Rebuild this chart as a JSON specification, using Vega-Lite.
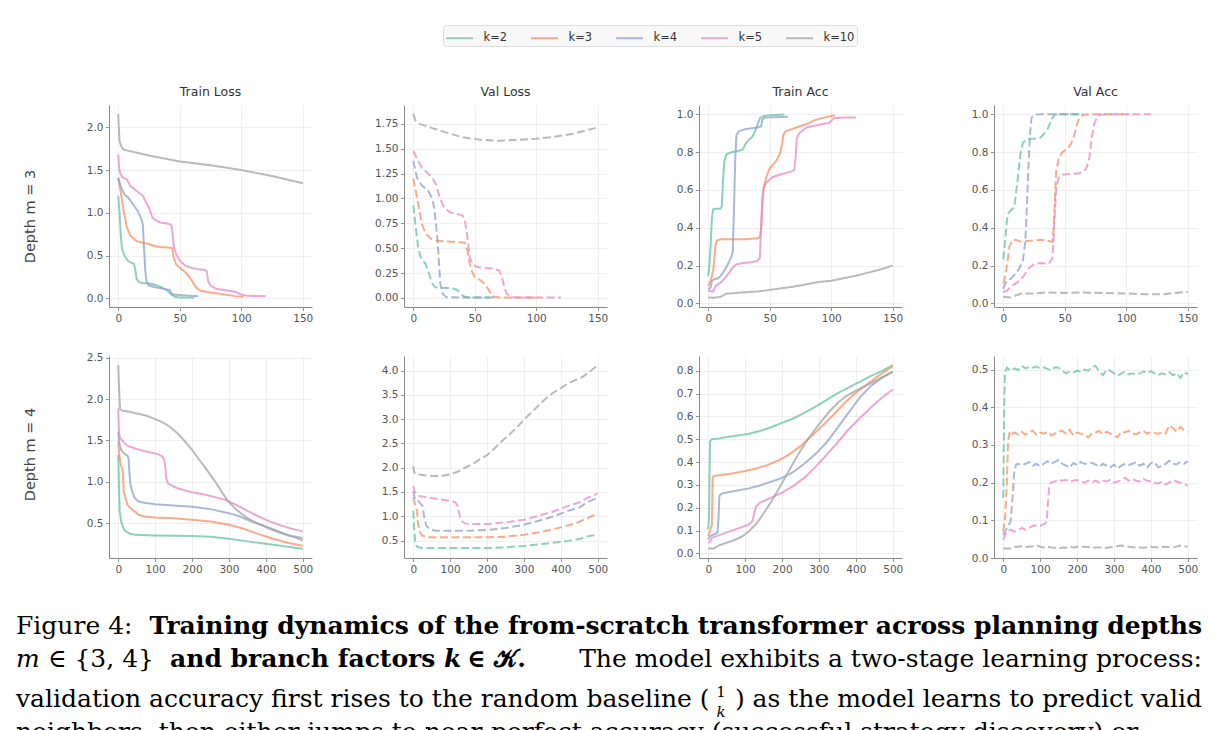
{
"$schema": "https://vega.github.io/schema/vega-lite/v6.json",
"padding": {"left": 16, "top": 24, "right": 0, "bottom": 0},
"config": {
 "view": {"stroke": null},
 "font": "DejaVu Sans",
 "axis": {"labelFont": "DejaVu Sans", "labelFontSize": 10.5, "labelColor": "#555555", "domainColor": "#888888", "tickColor": "#888888", "tickSize": 3.5, "labelPadding": 2.5, "gridColor": "#ebebeb", "gridWidth": 0.8, "domainWidth": 1, "tickWidth": 0.9, "titleFont": "DejaVu Sans", "titleFontSize": 14.5, "titleFontWeight": "normal", "titleColor": "#444444"},
 "title": {"font": "DejaVu Sans", "fontSize": 12.5, "fontWeight": "normal", "color": "#333333", "offset": 7},
 "legend": {"labelFont": "DejaVu Sans", "labelFontSize": 11.5, "labelColor": "#333333"}
},
"datasets": {
"d": [
{"p":"3TL","k":"k=2","x":0,"y":1.2},{"p":"3TL","k":"k=2","x":1,"y":1.02},{"p":"3TL","k":"k=2","x":2,"y":0.75},{"p":"3TL","k":"k=2","x":3,"y":0.59},{"p":"3TL","k":"k=2","x":5,"y":0.5},{"p":"3TL","k":"k=2","x":8,"y":0.44},{"p":"3TL","k":"k=2","x":10,"y":0.42},{"p":"3TL","k":"k=2","x":13,"y":0.4},{"p":"3TL","k":"k=2","x":14,"y":0.32},{"p":"3TL","k":"k=2","x":15,"y":0.225},{"p":"3TL","k":"k=2","x":17,"y":0.19},{"p":"3TL","k":"k=2","x":20,"y":0.18},{"p":"3TL","k":"k=2","x":25,"y":0.175},{"p":"3TL","k":"k=2","x":30,"y":0.16},{"p":"3TL","k":"k=2","x":35,"y":0.13},{"p":"3TL","k":"k=2","x":40,"y":0.09},{"p":"3TL","k":"k=2","x":43,"y":0.05},{"p":"3TL","k":"k=2","x":46,"y":0.02},{"p":"3TL","k":"k=2","x":50,"y":0.012},{"p":"3TL","k":"k=2","x":62,"y":0.01},
{"p":"3TL","k":"k=3","x":0,"y":1.41},{"p":"3TL","k":"k=3","x":2,"y":1.25},{"p":"3TL","k":"k=3","x":4,"y":1.06},{"p":"3TL","k":"k=3","x":5,"y":0.98},{"p":"3TL","k":"k=3","x":7,"y":0.83},{"p":"3TL","k":"k=3","x":10,"y":0.73},{"p":"3TL","k":"k=3","x":15,"y":0.67},{"p":"3TL","k":"k=3","x":20,"y":0.65},{"p":"3TL","k":"k=3","x":25,"y":0.635},{"p":"3TL","k":"k=3","x":30,"y":0.61},{"p":"3TL","k":"k=3","x":35,"y":0.6},{"p":"3TL","k":"k=3","x":40,"y":0.595},{"p":"3TL","k":"k=3","x":44,"y":0.59},{"p":"3TL","k":"k=3","x":45,"y":0.48},{"p":"3TL","k":"k=3","x":47,"y":0.4},{"p":"3TL","k":"k=3","x":50,"y":0.36},{"p":"3TL","k":"k=3","x":55,"y":0.3},{"p":"3TL","k":"k=3","x":58,"y":0.245},{"p":"3TL","k":"k=3","x":60,"y":0.205},{"p":"3TL","k":"k=3","x":63,"y":0.13},{"p":"3TL","k":"k=3","x":67,"y":0.09},{"p":"3TL","k":"k=3","x":75,"y":0.07},{"p":"3TL","k":"k=3","x":85,"y":0.05},{"p":"3TL","k":"k=3","x":95,"y":0.027},{"p":"3TL","k":"k=3","x":102,"y":0.02},
{"p":"3TL","k":"k=4","x":0,"y":1.41},{"p":"3TL","k":"k=4","x":2,"y":1.31},{"p":"3TL","k":"k=4","x":5,"y":1.215},{"p":"3TL","k":"k=4","x":8,"y":1.18},{"p":"3TL","k":"k=4","x":12,"y":1.1},{"p":"3TL","k":"k=4","x":16,"y":1.02},{"p":"3TL","k":"k=4","x":19,"y":0.92},{"p":"3TL","k":"k=4","x":20,"y":0.865},{"p":"3TL","k":"k=4","x":21,"y":0.59},{"p":"3TL","k":"k=4","x":22,"y":0.32},{"p":"3TL","k":"k=4","x":23,"y":0.205},{"p":"3TL","k":"k=4","x":25,"y":0.15},{"p":"3TL","k":"k=4","x":30,"y":0.13},{"p":"3TL","k":"k=4","x":35,"y":0.12},{"p":"3TL","k":"k=4","x":40,"y":0.105},{"p":"3TL","k":"k=4","x":42,"y":0.1},{"p":"3TL","k":"k=4","x":43,"y":0.06},{"p":"3TL","k":"k=4","x":45,"y":0.045},{"p":"3TL","k":"k=4","x":50,"y":0.04},{"p":"3TL","k":"k=4","x":60,"y":0.03},{"p":"3TL","k":"k=4","x":65,"y":0.027},
{"p":"3TL","k":"k=5","x":0,"y":1.68},{"p":"3TL","k":"k=5","x":1,"y":1.49},{"p":"3TL","k":"k=5","x":3,"y":1.42},{"p":"3TL","k":"k=5","x":7,"y":1.39},{"p":"3TL","k":"k=5","x":10,"y":1.31},{"p":"3TL","k":"k=5","x":15,"y":1.255},{"p":"3TL","k":"k=5","x":20,"y":1.2},{"p":"3TL","k":"k=5","x":22,"y":1.14},{"p":"3TL","k":"k=5","x":25,"y":1.06},{"p":"3TL","k":"k=5","x":28,"y":0.94},{"p":"3TL","k":"k=5","x":32,"y":0.9},{"p":"3TL","k":"k=5","x":35,"y":0.885},{"p":"3TL","k":"k=5","x":40,"y":0.875},{"p":"3TL","k":"k=5","x":43,"y":0.86},{"p":"3TL","k":"k=5","x":44,"y":0.79},{"p":"3TL","k":"k=5","x":45,"y":0.63},{"p":"3TL","k":"k=5","x":47,"y":0.52},{"p":"3TL","k":"k=5","x":50,"y":0.44},{"p":"3TL","k":"k=5","x":55,"y":0.38},{"p":"3TL","k":"k=5","x":60,"y":0.355},{"p":"3TL","k":"k=5","x":65,"y":0.34},{"p":"3TL","k":"k=5","x":70,"y":0.335},{"p":"3TL","k":"k=5","x":72,"y":0.32},{"p":"3TL","k":"k=5","x":73,"y":0.205},{"p":"3TL","k":"k=5","x":75,"y":0.15},{"p":"3TL","k":"k=5","x":80,"y":0.11},{"p":"3TL","k":"k=5","x":90,"y":0.09},{"p":"3TL","k":"k=5","x":95,"y":0.078},{"p":"3TL","k":"k=5","x":98,"y":0.06},{"p":"3TL","k":"k=5","x":100,"y":0.045},{"p":"3TL","k":"k=5","x":105,"y":0.03},{"p":"3TL","k":"k=5","x":120,"y":0.027},
{"p":"3TL","k":"k=10","x":0,"y":2.155},{"p":"3TL","k":"k=10","x":1,"y":1.84},{"p":"3TL","k":"k=10","x":3,"y":1.76},{"p":"3TL","k":"k=10","x":5,"y":1.735},{"p":"3TL","k":"k=10","x":10,"y":1.72},{"p":"3TL","k":"k=10","x":25,"y":1.67},{"p":"3TL","k":"k=10","x":50,"y":1.6},{"p":"3TL","k":"k=10","x":75,"y":1.555},{"p":"3TL","k":"k=10","x":100,"y":1.5},{"p":"3TL","k":"k=10","x":125,"y":1.43},{"p":"3TL","k":"k=10","x":150,"y":1.345},

{"p":"3VL","k":"k=2","x":0,"y":0.93},{"p":"3VL","k":"k=2","x":1,"y":0.845},{"p":"3VL","k":"k=2","x":2,"y":0.71},{"p":"3VL","k":"k=2","x":4,"y":0.51},{"p":"3VL","k":"k=2","x":6,"y":0.41},{"p":"3VL","k":"k=2","x":10,"y":0.34},{"p":"3VL","k":"k=2","x":13,"y":0.24},{"p":"3VL","k":"k=2","x":15,"y":0.16},{"p":"3VL","k":"k=2","x":17,"y":0.115},{"p":"3VL","k":"k=2","x":20,"y":0.1},{"p":"3VL","k":"k=2","x":25,"y":0.1},{"p":"3VL","k":"k=2","x":30,"y":0.1},{"p":"3VL","k":"k=2","x":35,"y":0.085},{"p":"3VL","k":"k=2","x":38,"y":0.057},{"p":"3VL","k":"k=2","x":40,"y":0.023},{"p":"3VL","k":"k=2","x":43,"y":0.007},{"p":"3VL","k":"k=2","x":50,"y":0.003},{"p":"3VL","k":"k=2","x":62,"y":0.003},
{"p":"3VL","k":"k=3","x":0,"y":1.2},{"p":"3VL","k":"k=3","x":2,"y":1.08},{"p":"3VL","k":"k=3","x":5,"y":0.88},{"p":"3VL","k":"k=3","x":7,"y":0.745},{"p":"3VL","k":"k=3","x":10,"y":0.645},{"p":"3VL","k":"k=3","x":15,"y":0.59},{"p":"3VL","k":"k=3","x":20,"y":0.575},{"p":"3VL","k":"k=3","x":25,"y":0.57},{"p":"3VL","k":"k=3","x":35,"y":0.56},{"p":"3VL","k":"k=3","x":42,"y":0.555},{"p":"3VL","k":"k=3","x":44,"y":0.475},{"p":"3VL","k":"k=3","x":46,"y":0.34},{"p":"3VL","k":"k=3","x":48,"y":0.26},{"p":"3VL","k":"k=3","x":50,"y":0.21},{"p":"3VL","k":"k=3","x":55,"y":0.175},{"p":"3VL","k":"k=3","x":58,"y":0.14},{"p":"3VL","k":"k=3","x":60,"y":0.107},{"p":"3VL","k":"k=3","x":63,"y":0.047},{"p":"3VL","k":"k=3","x":65,"y":0.013},{"p":"3VL","k":"k=3","x":70,"y":0.003},{"p":"3VL","k":"k=3","x":102,"y":0.003},
{"p":"3VL","k":"k=4","x":0,"y":1.38},{"p":"3VL","k":"k=4","x":3,"y":1.21},{"p":"3VL","k":"k=4","x":7,"y":1.13},{"p":"3VL","k":"k=4","x":12,"y":1.08},{"p":"3VL","k":"k=4","x":15,"y":1.01},{"p":"3VL","k":"k=4","x":17,"y":0.91},{"p":"3VL","k":"k=4","x":19,"y":0.68},{"p":"3VL","k":"k=4","x":20,"y":0.54},{"p":"3VL","k":"k=4","x":21,"y":0.34},{"p":"3VL","k":"k=4","x":22,"y":0.14},{"p":"3VL","k":"k=4","x":24,"y":0.04},{"p":"3VL","k":"k=4","x":27,"y":0.007},{"p":"3VL","k":"k=4","x":40,"y":0.003},{"p":"3VL","k":"k=4","x":65,"y":0.003},
{"p":"3VL","k":"k=5","x":0,"y":1.48},{"p":"3VL","k":"k=5","x":3,"y":1.4},{"p":"3VL","k":"k=5","x":7,"y":1.31},{"p":"3VL","k":"k=5","x":12,"y":1.25},{"p":"3VL","k":"k=5","x":16,"y":1.2},{"p":"3VL","k":"k=5","x":19,"y":1.13},{"p":"3VL","k":"k=5","x":21,"y":1.03},{"p":"3VL","k":"k=5","x":25,"y":0.91},{"p":"3VL","k":"k=5","x":30,"y":0.86},{"p":"3VL","k":"k=5","x":35,"y":0.845},{"p":"3VL","k":"k=5","x":40,"y":0.83},{"p":"3VL","k":"k=5","x":42,"y":0.78},{"p":"3VL","k":"k=5","x":44,"y":0.61},{"p":"3VL","k":"k=5","x":46,"y":0.41},{"p":"3VL","k":"k=5","x":48,"y":0.34},{"p":"3VL","k":"k=5","x":52,"y":0.31},{"p":"3VL","k":"k=5","x":58,"y":0.3},{"p":"3VL","k":"k=5","x":65,"y":0.295},{"p":"3VL","k":"k=5","x":70,"y":0.275},{"p":"3VL","k":"k=5","x":72,"y":0.21},{"p":"3VL","k":"k=5","x":74,"y":0.107},{"p":"3VL","k":"k=5","x":76,"y":0.04},{"p":"3VL","k":"k=5","x":80,"y":0.007},{"p":"3VL","k":"k=5","x":90,"y":0.003},{"p":"3VL","k":"k=5","x":120,"y":0.003},
{"p":"3VL","k":"k=10","x":0,"y":1.85},{"p":"3VL","k":"k=10","x":2,"y":1.78},{"p":"3VL","k":"k=10","x":5,"y":1.75},{"p":"3VL","k":"k=10","x":15,"y":1.71},{"p":"3VL","k":"k=10","x":25,"y":1.67},{"p":"3VL","k":"k=10","x":40,"y":1.615},{"p":"3VL","k":"k=10","x":55,"y":1.59},{"p":"3VL","k":"k=10","x":70,"y":1.58},{"p":"3VL","k":"k=10","x":85,"y":1.59},{"p":"3VL","k":"k=10","x":100,"y":1.6},{"p":"3VL","k":"k=10","x":115,"y":1.62},{"p":"3VL","k":"k=10","x":130,"y":1.65},{"p":"3VL","k":"k=10","x":150,"y":1.715},

{"p":"3TA","k":"k=2","x":0,"y":0.145},{"p":"3TA","k":"k=2","x":1,"y":0.207},{"p":"3TA","k":"k=2","x":2,"y":0.31},{"p":"3TA","k":"k=2","x":3,"y":0.45},{"p":"3TA","k":"k=2","x":4,"y":0.497},{"p":"3TA","k":"k=2","x":6,"y":0.5},{"p":"3TA","k":"k=2","x":10,"y":0.5},{"p":"3TA","k":"k=2","x":11,"y":0.514},{"p":"3TA","k":"k=2","x":12,"y":0.646},{"p":"3TA","k":"k=2","x":13,"y":0.75},{"p":"3TA","k":"k=2","x":15,"y":0.79},{"p":"3TA","k":"k=2","x":20,"y":0.8},{"p":"3TA","k":"k=2","x":25,"y":0.807},{"p":"3TA","k":"k=2","x":28,"y":0.812},{"p":"3TA","k":"k=2","x":30,"y":0.84},{"p":"3TA","k":"k=2","x":33,"y":0.865},{"p":"3TA","k":"k=2","x":36,"y":0.882},{"p":"3TA","k":"k=2","x":38,"y":0.909},{"p":"3TA","k":"k=2","x":40,"y":0.944},{"p":"3TA","k":"k=2","x":42,"y":0.979},{"p":"3TA","k":"k=2","x":45,"y":0.99},{"p":"3TA","k":"k=2","x":50,"y":0.995},{"p":"3TA","k":"k=2","x":62,"y":0.998},
{"p":"3TA","k":"k=3","x":0,"y":0.093},{"p":"3TA","k":"k=3","x":2,"y":0.12},{"p":"3TA","k":"k=3","x":4,"y":0.172},{"p":"3TA","k":"k=3","x":5,"y":0.242},{"p":"3TA","k":"k=3","x":6,"y":0.31},{"p":"3TA","k":"k=3","x":7,"y":0.333},{"p":"3TA","k":"k=3","x":10,"y":0.339},{"p":"3TA","k":"k=3","x":20,"y":0.339},{"p":"3TA","k":"k=3","x":30,"y":0.34},{"p":"3TA","k":"k=3","x":40,"y":0.344},{"p":"3TA","k":"k=3","x":42,"y":0.351},{"p":"3TA","k":"k=3","x":43,"y":0.4},{"p":"3TA","k":"k=3","x":44,"y":0.523},{"p":"3TA","k":"k=3","x":45,"y":0.61},{"p":"3TA","k":"k=3","x":47,"y":0.663},{"p":"3TA","k":"k=3","x":50,"y":0.716},{"p":"3TA","k":"k=3","x":55,"y":0.75},{"p":"3TA","k":"k=3","x":58,"y":0.786},{"p":"3TA","k":"k=3","x":60,"y":0.84},{"p":"3TA","k":"k=3","x":61,"y":0.891},{"p":"3TA","k":"k=3","x":63,"y":0.909},{"p":"3TA","k":"k=3","x":70,"y":0.926},{"p":"3TA","k":"k=3","x":78,"y":0.944},{"p":"3TA","k":"k=3","x":82,"y":0.953},{"p":"3TA","k":"k=3","x":85,"y":0.965},{"p":"3TA","k":"k=3","x":92,"y":0.979},{"p":"3TA","k":"k=3","x":100,"y":0.991},{"p":"3TA","k":"k=3","x":103,"y":0.993},
{"p":"3TA","k":"k=4","x":0,"y":0.075},{"p":"3TA","k":"k=4","x":2,"y":0.084},{"p":"3TA","k":"k=4","x":3,"y":0.12},{"p":"3TA","k":"k=4","x":5,"y":0.128},{"p":"3TA","k":"k=4","x":8,"y":0.133},{"p":"3TA","k":"k=4","x":10,"y":0.146},{"p":"3TA","k":"k=4","x":13,"y":0.172},{"p":"3TA","k":"k=4","x":16,"y":0.207},{"p":"3TA","k":"k=4","x":19,"y":0.25},{"p":"3TA","k":"k=4","x":20,"y":0.277},{"p":"3TA","k":"k=4","x":21,"y":0.523},{"p":"3TA","k":"k=4","x":22,"y":0.768},{"p":"3TA","k":"k=4","x":23,"y":0.891},{"p":"3TA","k":"k=4","x":25,"y":0.909},{"p":"3TA","k":"k=4","x":30,"y":0.921},{"p":"3TA","k":"k=4","x":35,"y":0.926},{"p":"3TA","k":"k=4","x":40,"y":0.93},{"p":"3TA","k":"k=4","x":43,"y":0.935},{"p":"3TA","k":"k=4","x":44,"y":0.97},{"p":"3TA","k":"k=4","x":46,"y":0.982},{"p":"3TA","k":"k=4","x":55,"y":0.984},{"p":"3TA","k":"k=4","x":65,"y":0.986},
{"p":"3TA","k":"k=5","x":0,"y":0.067},{"p":"3TA","k":"k=5","x":4,"y":0.063},{"p":"3TA","k":"k=5","x":6,"y":0.093},{"p":"3TA","k":"k=5","x":10,"y":0.11},{"p":"3TA","k":"k=5","x":14,"y":0.137},{"p":"3TA","k":"k=5","x":17,"y":0.163},{"p":"3TA","k":"k=5","x":20,"y":0.19},{"p":"3TA","k":"k=5","x":23,"y":0.207},{"p":"3TA","k":"k=5","x":28,"y":0.214},{"p":"3TA","k":"k=5","x":35,"y":0.218},{"p":"3TA","k":"k=5","x":40,"y":0.225},{"p":"3TA","k":"k=5","x":42,"y":0.242},{"p":"3TA","k":"k=5","x":43,"y":0.4},{"p":"3TA","k":"k=5","x":44,"y":0.558},{"p":"3TA","k":"k=5","x":45,"y":0.61},{"p":"3TA","k":"k=5","x":47,"y":0.637},{"p":"3TA","k":"k=5","x":52,"y":0.667},{"p":"3TA","k":"k=5","x":60,"y":0.684},{"p":"3TA","k":"k=5","x":68,"y":0.698},{"p":"3TA","k":"k=5","x":70,"y":0.707},{"p":"3TA","k":"k=5","x":71,"y":0.768},{"p":"3TA","k":"k=5","x":72,"y":0.874},{"p":"3TA","k":"k=5","x":74,"y":0.9},{"p":"3TA","k":"k=5","x":80,"y":0.93},{"p":"3TA","k":"k=5","x":90,"y":0.944},{"p":"3TA","k":"k=5","x":98,"y":0.953},{"p":"3TA","k":"k=5","x":100,"y":0.965},{"p":"3TA","k":"k=5","x":102,"y":0.979},{"p":"3TA","k":"k=5","x":110,"y":0.982},{"p":"3TA","k":"k=5","x":120,"y":0.982},
{"p":"3TA","k":"k=10","x":0,"y":0.032},{"p":"3TA","k":"k=10","x":5,"y":0.03},{"p":"3TA","k":"k=10","x":10,"y":0.035},{"p":"3TA","k":"k=10","x":15,"y":0.053},{"p":"3TA","k":"k=10","x":20,"y":0.054},{"p":"3TA","k":"k=10","x":30,"y":0.06},{"p":"3TA","k":"k=10","x":40,"y":0.063},{"p":"3TA","k":"k=10","x":50,"y":0.072},{"p":"3TA","k":"k=10","x":60,"y":0.081},{"p":"3TA","k":"k=10","x":70,"y":0.09},{"p":"3TA","k":"k=10","x":80,"y":0.102},{"p":"3TA","k":"k=10","x":90,"y":0.114},{"p":"3TA","k":"k=10","x":100,"y":0.12},{"p":"3TA","k":"k=10","x":110,"y":0.133},{"p":"3TA","k":"k=10","x":120,"y":0.147},{"p":"3TA","k":"k=10","x":130,"y":0.163},{"p":"3TA","k":"k=10","x":140,"y":0.18},{"p":"3TA","k":"k=10","x":150,"y":0.2},

{"p":"3VA","k":"k=2","x":0,"y":0.233},{"p":"3VA","k":"k=2","x":1,"y":0.295},{"p":"3VA","k":"k=2","x":2,"y":0.365},{"p":"3VA","k":"k=2","x":3,"y":0.44},{"p":"3VA","k":"k=2","x":4,"y":0.475},{"p":"3VA","k":"k=2","x":6,"y":0.49},{"p":"3VA","k":"k=2","x":9,"y":0.51},{"p":"3VA","k":"k=2","x":10,"y":0.56},{"p":"3VA","k":"k=2","x":12,"y":0.67},{"p":"3VA","k":"k=2","x":14,"y":0.79},{"p":"3VA","k":"k=2","x":16,"y":0.85},{"p":"3VA","k":"k=2","x":20,"y":0.87},{"p":"3VA","k":"k=2","x":25,"y":0.87},{"p":"3VA","k":"k=2","x":30,"y":0.875},{"p":"3VA","k":"k=2","x":33,"y":0.895},{"p":"3VA","k":"k=2","x":36,"y":0.92},{"p":"3VA","k":"k=2","x":40,"y":0.982},{"p":"3VA","k":"k=2","x":42,"y":0.998},{"p":"3VA","k":"k=2","x":50,"y":1.0},{"p":"3VA","k":"k=2","x":62,"y":1.0},
{"p":"3VA","k":"k=3","x":0,"y":0.105},{"p":"3VA","k":"k=3","x":2,"y":0.158},{"p":"3VA","k":"k=3","x":4,"y":0.246},{"p":"3VA","k":"k=3","x":5,"y":0.3},{"p":"3VA","k":"k=3","x":7,"y":0.33},{"p":"3VA","k":"k=3","x":10,"y":0.337},{"p":"3VA","k":"k=3","x":15,"y":0.325},{"p":"3VA","k":"k=3","x":20,"y":0.33},{"p":"3VA","k":"k=3","x":25,"y":0.333},{"p":"3VA","k":"k=3","x":30,"y":0.337},{"p":"3VA","k":"k=3","x":35,"y":0.333},{"p":"3VA","k":"k=3","x":40,"y":0.325},{"p":"3VA","k":"k=3","x":41,"y":0.404},{"p":"3VA","k":"k=3","x":42,"y":0.544},{"p":"3VA","k":"k=3","x":43,"y":0.7},{"p":"3VA","k":"k=3","x":45,"y":0.763},{"p":"3VA","k":"k=3","x":48,"y":0.8},{"p":"3VA","k":"k=3","x":52,"y":0.816},{"p":"3VA","k":"k=3","x":55,"y":0.842},{"p":"3VA","k":"k=3","x":58,"y":0.895},{"p":"3VA","k":"k=3","x":60,"y":0.947},{"p":"3VA","k":"k=3","x":62,"y":0.982},{"p":"3VA","k":"k=3","x":65,"y":0.996},{"p":"3VA","k":"k=3","x":70,"y":1.0},{"p":"3VA","k":"k=3","x":102,"y":1.0},
{"p":"3VA","k":"k=4","x":0,"y":0.079},{"p":"3VA","k":"k=4","x":3,"y":0.123},{"p":"3VA","k":"k=4","x":6,"y":0.13},{"p":"3VA","k":"k=4","x":10,"y":0.158},{"p":"3VA","k":"k=4","x":13,"y":0.184},{"p":"3VA","k":"k=4","x":16,"y":0.228},{"p":"3VA","k":"k=4","x":18,"y":0.333},{"p":"3VA","k":"k=4","x":19,"y":0.474},{"p":"3VA","k":"k=4","x":20,"y":0.65},{"p":"3VA","k":"k=4","x":21,"y":0.79},{"p":"3VA","k":"k=4","x":22,"y":0.912},{"p":"3VA","k":"k=4","x":23,"y":0.982},{"p":"3VA","k":"k=4","x":25,"y":0.996},{"p":"3VA","k":"k=4","x":30,"y":1.0},{"p":"3VA","k":"k=4","x":65,"y":1.0},
{"p":"3VA","k":"k=5","x":0,"y":0.061},{"p":"3VA","k":"k=5","x":3,"y":0.067},{"p":"3VA","k":"k=5","x":6,"y":0.088},{"p":"3VA","k":"k=5","x":10,"y":0.105},{"p":"3VA","k":"k=5","x":14,"y":0.123},{"p":"3VA","k":"k=5","x":18,"y":0.158},{"p":"3VA","k":"k=5","x":21,"y":0.188},{"p":"3VA","k":"k=5","x":25,"y":0.207},{"p":"3VA","k":"k=5","x":30,"y":0.214},{"p":"3VA","k":"k=5","x":37,"y":0.21},{"p":"3VA","k":"k=5","x":40,"y":0.237},{"p":"3VA","k":"k=5","x":41,"y":0.35},{"p":"3VA","k":"k=5","x":42,"y":0.49},{"p":"3VA","k":"k=5","x":43,"y":0.596},{"p":"3VA","k":"k=5","x":45,"y":0.667},{"p":"3VA","k":"k=5","x":48,"y":0.68},{"p":"3VA","k":"k=5","x":55,"y":0.684},{"p":"3VA","k":"k=5","x":62,"y":0.688},{"p":"3VA","k":"k=5","x":66,"y":0.7},{"p":"3VA","k":"k=5","x":68,"y":0.72},{"p":"3VA","k":"k=5","x":70,"y":0.77},{"p":"3VA","k":"k=5","x":72,"y":0.877},{"p":"3VA","k":"k=5","x":74,"y":0.947},{"p":"3VA","k":"k=5","x":76,"y":0.982},{"p":"3VA","k":"k=5","x":78,"y":0.996},{"p":"3VA","k":"k=5","x":85,"y":1.0},{"p":"3VA","k":"k=5","x":120,"y":1.0},
{"p":"3VA","k":"k=10","x":0,"y":0.035},{"p":"3VA","k":"k=10","x":6,"y":0.032},{"p":"3VA","k":"k=10","x":10,"y":0.042},{"p":"3VA","k":"k=10","x":15,"y":0.053},{"p":"3VA","k":"k=10","x":25,"y":0.053},{"p":"3VA","k":"k=10","x":35,"y":0.058},{"p":"3VA","k":"k=10","x":50,"y":0.056},{"p":"3VA","k":"k=10","x":65,"y":0.058},{"p":"3VA","k":"k=10","x":80,"y":0.056},{"p":"3VA","k":"k=10","x":100,"y":0.053},{"p":"3VA","k":"k=10","x":115,"y":0.049},{"p":"3VA","k":"k=10","x":130,"y":0.049},{"p":"3VA","k":"k=10","x":140,"y":0.056},{"p":"3VA","k":"k=10","x":150,"y":0.061},

{"p":"4TL","k":"k=2","x":0,"y":1.323},{"p":"4TL","k":"k=2","x":2,"y":0.962},{"p":"4TL","k":"k=2","x":4,"y":0.641},{"p":"4TL","k":"k=2","x":8,"y":0.52},{"p":"4TL","k":"k=2","x":12,"y":0.46},{"p":"4TL","k":"k=2","x":18,"y":0.408},{"p":"4TL","k":"k=2","x":30,"y":0.375},{"p":"4TL","k":"k=2","x":45,"y":0.359},{"p":"4TL","k":"k=2","x":100,"y":0.351},{"p":"4TL","k":"k=2","x":150,"y":0.347},{"p":"4TL","k":"k=2","x":200,"y":0.343},{"p":"4TL","k":"k=2","x":250,"y":0.335},{"p":"4TL","k":"k=2","x":300,"y":0.311},{"p":"4TL","k":"k=2","x":350,"y":0.279},{"p":"4TL","k":"k=2","x":400,"y":0.251},{"p":"4TL","k":"k=2","x":450,"y":0.219},{"p":"4TL","k":"k=2","x":500,"y":0.191},
{"p":"4TL","k":"k=3","x":0,"y":1.484},{"p":"4TL","k":"k=3","x":3,"y":1.323},{"p":"4TL","k":"k=3","x":7,"y":1.203},{"p":"4TL","k":"k=3","x":12,"y":1.142},{"p":"4TL","k":"k=3","x":15,"y":0.881},{"p":"4TL","k":"k=3","x":20,"y":0.801},{"p":"4TL","k":"k=3","x":25,"y":0.721},{"p":"4TL","k":"k=3","x":35,"y":0.673},{"p":"4TL","k":"k=3","x":45,"y":0.641},{"p":"4TL","k":"k=3","x":55,"y":0.6},{"p":"4TL","k":"k=3","x":70,"y":0.58},{"p":"4TL","k":"k=3","x":100,"y":0.568},{"p":"4TL","k":"k=3","x":150,"y":0.56},{"p":"4TL","k":"k=3","x":200,"y":0.54},{"p":"4TL","k":"k=3","x":250,"y":0.52},{"p":"4TL","k":"k=3","x":300,"y":0.48},{"p":"4TL","k":"k=3","x":340,"y":0.432},{"p":"4TL","k":"k=3","x":380,"y":0.367},{"p":"4TL","k":"k=3","x":420,"y":0.311},{"p":"4TL","k":"k=3","x":460,"y":0.259},{"p":"4TL","k":"k=3","x":500,"y":0.227},
{"p":"4TL","k":"k=4","x":0,"y":1.604},{"p":"4TL","k":"k=4","x":3,"y":1.464},{"p":"4TL","k":"k=4","x":8,"y":1.384},{"p":"4TL","k":"k=4","x":15,"y":1.343},{"p":"4TL","k":"k=4","x":25,"y":1.315},{"p":"4TL","k":"k=4","x":28,"y":1.283},{"p":"4TL","k":"k=4","x":30,"y":1.122},{"p":"4TL","k":"k=4","x":33,"y":0.962},{"p":"4TL","k":"k=4","x":38,"y":0.881},{"p":"4TL","k":"k=4","x":45,"y":0.801},{"p":"4TL","k":"k=4","x":55,"y":0.761},{"p":"4TL","k":"k=4","x":70,"y":0.745},{"p":"4TL","k":"k=4","x":100,"y":0.729},{"p":"4TL","k":"k=4","x":150,"y":0.713},{"p":"4TL","k":"k=4","x":200,"y":0.697},{"p":"4TL","k":"k=4","x":250,"y":0.669},{"p":"4TL","k":"k=4","x":300,"y":0.62},{"p":"4TL","k":"k=4","x":330,"y":0.58},{"p":"4TL","k":"k=4","x":360,"y":0.52},{"p":"4TL","k":"k=4","x":400,"y":0.46},{"p":"4TL","k":"k=4","x":430,"y":0.408},{"p":"4TL","k":"k=4","x":460,"y":0.351},{"p":"4TL","k":"k=4","x":480,"y":0.327},{"p":"4TL","k":"k=4","x":500,"y":0.287},
{"p":"4TL","k":"k=5","x":0,"y":1.886},{"p":"4TL","k":"k=5","x":2,"y":1.6},{"p":"4TL","k":"k=5","x":5,"y":1.532},{"p":"4TL","k":"k=5","x":10,"y":1.504},{"p":"4TL","k":"k=5","x":20,"y":1.452},{"p":"4TL","k":"k=5","x":30,"y":1.424},{"p":"4TL","k":"k=5","x":50,"y":1.396},{"p":"4TL","k":"k=5","x":70,"y":1.371},{"p":"4TL","k":"k=5","x":90,"y":1.351},{"p":"4TL","k":"k=5","x":110,"y":1.331},{"p":"4TL","k":"k=5","x":120,"y":1.303},{"p":"4TL","k":"k=5","x":125,"y":1.263},{"p":"4TL","k":"k=5","x":128,"y":1.163},{"p":"4TL","k":"k=5","x":130,"y":1.042},{"p":"4TL","k":"k=5","x":135,"y":0.982},{"p":"4TL","k":"k=5","x":145,"y":0.954},{"p":"4TL","k":"k=5","x":160,"y":0.922},{"p":"4TL","k":"k=5","x":180,"y":0.898},{"p":"4TL","k":"k=5","x":200,"y":0.873},{"p":"4TL","k":"k=5","x":230,"y":0.849},{"p":"4TL","k":"k=5","x":260,"y":0.817},{"p":"4TL","k":"k=5","x":290,"y":0.781},{"p":"4TL","k":"k=5","x":320,"y":0.721},{"p":"4TL","k":"k=5","x":350,"y":0.648},{"p":"4TL","k":"k=5","x":380,"y":0.58},{"p":"4TL","k":"k=5","x":410,"y":0.52},{"p":"4TL","k":"k=5","x":440,"y":0.472},{"p":"4TL","k":"k=5","x":470,"y":0.432},{"p":"4TL","k":"k=5","x":500,"y":0.4},
{"p":"4TL","k":"k=10","x":0,"y":2.41},{"p":"4TL","k":"k=10","x":3,"y":2.05},{"p":"4TL","k":"k=10","x":5,"y":1.878},{"p":"4TL","k":"k=10","x":10,"y":1.86},{"p":"4TL","k":"k=10","x":30,"y":1.845},{"p":"4TL","k":"k=10","x":50,"y":1.825},{"p":"4TL","k":"k=10","x":75,"y":1.8},{"p":"4TL","k":"k=10","x":100,"y":1.757},{"p":"4TL","k":"k=10","x":120,"y":1.717},{"p":"4TL","k":"k=10","x":140,"y":1.665},{"p":"4TL","k":"k=10","x":160,"y":1.585},{"p":"4TL","k":"k=10","x":180,"y":1.492},{"p":"4TL","k":"k=10","x":200,"y":1.384},{"p":"4TL","k":"k=10","x":220,"y":1.263},{"p":"4TL","k":"k=10","x":240,"y":1.143},{"p":"4TL","k":"k=10","x":260,"y":1.02},{"p":"4TL","k":"k=10","x":280,"y":0.88},{"p":"4TL","k":"k=10","x":295,"y":0.78},{"p":"4TL","k":"k=10","x":320,"y":0.66},{"p":"4TL","k":"k=10","x":350,"y":0.56},{"p":"4TL","k":"k=10","x":380,"y":0.49},{"p":"4TL","k":"k=10","x":410,"y":0.43},{"p":"4TL","k":"k=10","x":440,"y":0.38},{"p":"4TL","k":"k=10","x":470,"y":0.345},{"p":"4TL","k":"k=10","x":500,"y":0.32},

{"p":"4VL","k":"k=2","x":0,"y":1.112},{"p":"4VL","k":"k=2","x":3,"y":0.703},{"p":"4VL","k":"k=2","x":6,"y":0.43},{"p":"4VL","k":"k=2","x":10,"y":0.375},{"p":"4VL","k":"k=2","x":20,"y":0.348},{"p":"4VL","k":"k=2","x":50,"y":0.348},{"p":"4VL","k":"k=2","x":100,"y":0.348},{"p":"4VL","k":"k=2","x":200,"y":0.348},{"p":"4VL","k":"k=2","x":250,"y":0.36},{"p":"4VL","k":"k=2","x":300,"y":0.389},{"p":"4VL","k":"k=2","x":350,"y":0.43},{"p":"4VL","k":"k=2","x":400,"y":0.471},{"p":"4VL","k":"k=2","x":450,"y":0.532},{"p":"4VL","k":"k=2","x":480,"y":0.6},{"p":"4VL","k":"k=2","x":500,"y":0.614},
{"p":"4VL","k":"k=3","x":0,"y":1.385},{"p":"4VL","k":"k=3","x":5,"y":1.249},{"p":"4VL","k":"k=3","x":10,"y":1.112},{"p":"4VL","k":"k=3","x":13,"y":0.839},{"p":"4VL","k":"k=3","x":18,"y":0.669},{"p":"4VL","k":"k=3","x":25,"y":0.6},{"p":"4VL","k":"k=3","x":40,"y":0.566},{"p":"4VL","k":"k=3","x":100,"y":0.566},{"p":"4VL","k":"k=3","x":200,"y":0.566},{"p":"4VL","k":"k=3","x":250,"y":0.58},{"p":"4VL","k":"k=3","x":300,"y":0.621},{"p":"4VL","k":"k=3","x":350,"y":0.682},{"p":"4VL","k":"k=3","x":400,"y":0.771},{"p":"4VL","k":"k=3","x":440,"y":0.853},{"p":"4VL","k":"k=3","x":470,"y":0.955},{"p":"4VL","k":"k=3","x":500,"y":1.058},
{"p":"4VL","k":"k=4","x":0,"y":1.521},{"p":"4VL","k":"k=4","x":5,"y":1.351},{"p":"4VL","k":"k=4","x":15,"y":1.303},{"p":"4VL","k":"k=4","x":25,"y":1.214},{"p":"4VL","k":"k=4","x":30,"y":0.976},{"p":"4VL","k":"k=4","x":35,"y":0.805},{"p":"4VL","k":"k=4","x":45,"y":0.737},{"p":"4VL","k":"k=4","x":60,"y":0.703},{"p":"4VL","k":"k=4","x":100,"y":0.703},{"p":"4VL","k":"k=4","x":150,"y":0.703},{"p":"4VL","k":"k=4","x":200,"y":0.716},{"p":"4VL","k":"k=4","x":250,"y":0.757},{"p":"4VL","k":"k=4","x":300,"y":0.826},{"p":"4VL","k":"k=4","x":340,"y":0.907},{"p":"4VL","k":"k=4","x":380,"y":0.996},{"p":"4VL","k":"k=4","x":420,"y":1.112},{"p":"4VL","k":"k=4","x":450,"y":1.18},{"p":"4VL","k":"k=4","x":470,"y":1.283},{"p":"4VL","k":"k=4","x":500,"y":1.385},
{"p":"4VL","k":"k=5","x":0,"y":1.624},{"p":"4VL","k":"k=5","x":5,"y":1.487},{"p":"4VL","k":"k=5","x":15,"y":1.419},{"p":"4VL","k":"k=5","x":40,"y":1.385},{"p":"4VL","k":"k=5","x":70,"y":1.351},{"p":"4VL","k":"k=5","x":100,"y":1.317},{"p":"4VL","k":"k=5","x":115,"y":1.283},{"p":"4VL","k":"k=5","x":120,"y":1.214},{"p":"4VL","k":"k=5","x":125,"y":1.044},{"p":"4VL","k":"k=5","x":130,"y":0.907},{"p":"4VL","k":"k=5","x":140,"y":0.853},{"p":"4VL","k":"k=5","x":160,"y":0.839},{"p":"4VL","k":"k=5","x":200,"y":0.839},{"p":"4VL","k":"k=5","x":250,"y":0.873},{"p":"4VL","k":"k=5","x":300,"y":0.928},{"p":"4VL","k":"k=5","x":340,"y":1.01},{"p":"4VL","k":"k=5","x":380,"y":1.098},{"p":"4VL","k":"k=5","x":420,"y":1.214},{"p":"4VL","k":"k=5","x":450,"y":1.283},{"p":"4VL","k":"k=5","x":470,"y":1.371},{"p":"4VL","k":"k=5","x":500,"y":1.467},
{"p":"4VL","k":"k=10","x":0,"y":2.033},{"p":"4VL","k":"k=10","x":3,"y":1.897},{"p":"4VL","k":"k=10","x":10,"y":1.863},{"p":"4VL","k":"k=10","x":30,"y":1.842},{"p":"4VL","k":"k=10","x":60,"y":1.829},{"p":"4VL","k":"k=10","x":80,"y":1.835},{"p":"4VL","k":"k=10","x":100,"y":1.863},{"p":"4VL","k":"k=10","x":120,"y":1.917},{"p":"4VL","k":"k=10","x":140,"y":1.999},{"p":"4VL","k":"k=10","x":160,"y":2.067},{"p":"4VL","k":"k=10","x":180,"y":2.17},{"p":"4VL","k":"k=10","x":200,"y":2.258},{"p":"4VL","k":"k=10","x":220,"y":2.395},{"p":"4VL","k":"k=10","x":240,"y":2.545},{"p":"4VL","k":"k=10","x":260,"y":2.681},{"p":"4VL","k":"k=10","x":280,"y":2.818},{"p":"4VL","k":"k=10","x":300,"y":2.988},{"p":"4VL","k":"k=10","x":320,"y":3.138},{"p":"4VL","k":"k=10","x":340,"y":3.282},{"p":"4VL","k":"k=10","x":360,"y":3.432},{"p":"4VL","k":"k=10","x":380,"y":3.548},{"p":"4VL","k":"k=10","x":400,"y":3.637},{"p":"4VL","k":"k=10","x":420,"y":3.739},{"p":"4VL","k":"k=10","x":440,"y":3.807},{"p":"4VL","k":"k=10","x":460,"y":3.876},{"p":"4VL","k":"k=10","x":480,"y":3.99},{"p":"4VL","k":"k=10","x":500,"y":4.113},

{"p":"4TA","k":"k=2","x":0,"y":0.105},{"p":"4TA","k":"k=2","x":2,"y":0.156},{"p":"4TA","k":"k=2","x":4,"y":0.39},{"p":"4TA","k":"k=2","x":5,"y":0.492},{"p":"4TA","k":"k=2","x":10,"y":0.5},{"p":"4TA","k":"k=2","x":30,"y":0.504},{"p":"4TA","k":"k=2","x":50,"y":0.51},{"p":"4TA","k":"k=2","x":80,"y":0.517},{"p":"4TA","k":"k=2","x":110,"y":0.524},{"p":"4TA","k":"k=2","x":140,"y":0.536},{"p":"4TA","k":"k=2","x":170,"y":0.553},{"p":"4TA","k":"k=2","x":200,"y":0.572},{"p":"4TA","k":"k=2","x":230,"y":0.591},{"p":"4TA","k":"k=2","x":260,"y":0.616},{"p":"4TA","k":"k=2","x":290,"y":0.642},{"p":"4TA","k":"k=2","x":320,"y":0.672},{"p":"4TA","k":"k=2","x":350,"y":0.701},{"p":"4TA","k":"k=2","x":380,"y":0.726},{"p":"4TA","k":"k=2","x":410,"y":0.752},{"p":"4TA","k":"k=2","x":440,"y":0.777},{"p":"4TA","k":"k=2","x":470,"y":0.799},{"p":"4TA","k":"k=2","x":500,"y":0.825},
{"p":"4TA","k":"k=3","x":0,"y":0.076},{"p":"4TA","k":"k=3","x":5,"y":0.098},{"p":"4TA","k":"k=3","x":10,"y":0.127},{"p":"4TA","k":"k=3","x":12,"y":0.331},{"p":"4TA","k":"k=3","x":14,"y":0.339},{"p":"4TA","k":"k=3","x":30,"y":0.343},{"p":"4TA","k":"k=3","x":60,"y":0.349},{"p":"4TA","k":"k=3","x":100,"y":0.361},{"p":"4TA","k":"k=3","x":130,"y":0.372},{"p":"4TA","k":"k=3","x":160,"y":0.387},{"p":"4TA","k":"k=3","x":190,"y":0.407},{"p":"4TA","k":"k=3","x":220,"y":0.434},{"p":"4TA","k":"k=3","x":250,"y":0.47},{"p":"4TA","k":"k=3","x":280,"y":0.514},{"p":"4TA","k":"k=3","x":310,"y":0.561},{"p":"4TA","k":"k=3","x":340,"y":0.609},{"p":"4TA","k":"k=3","x":370,"y":0.66},{"p":"4TA","k":"k=3","x":400,"y":0.704},{"p":"4TA","k":"k=3","x":430,"y":0.74},{"p":"4TA","k":"k=3","x":460,"y":0.777},{"p":"4TA","k":"k=3","x":500,"y":0.82},
{"p":"4TA","k":"k=4","x":0,"y":0.061},{"p":"4TA","k":"k=4","x":5,"y":0.076},{"p":"4TA","k":"k=4","x":15,"y":0.083},{"p":"4TA","k":"k=4","x":25,"y":0.09},{"p":"4TA","k":"k=4","x":28,"y":0.156},{"p":"4TA","k":"k=4","x":30,"y":0.251},{"p":"4TA","k":"k=4","x":35,"y":0.261},{"p":"4TA","k":"k=4","x":50,"y":0.267},{"p":"4TA","k":"k=4","x":80,"y":0.276},{"p":"4TA","k":"k=4","x":110,"y":0.285},{"p":"4TA","k":"k=4","x":140,"y":0.298},{"p":"4TA","k":"k=4","x":170,"y":0.314},{"p":"4TA","k":"k=4","x":200,"y":0.331},{"p":"4TA","k":"k=4","x":230,"y":0.356},{"p":"4TA","k":"k=4","x":260,"y":0.393},{"p":"4TA","k":"k=4","x":290,"y":0.434},{"p":"4TA","k":"k=4","x":320,"y":0.485},{"p":"4TA","k":"k=4","x":350,"y":0.55},{"p":"4TA","k":"k=4","x":380,"y":0.616},{"p":"4TA","k":"k=4","x":410,"y":0.682},{"p":"4TA","k":"k=4","x":440,"y":0.733},{"p":"4TA","k":"k=4","x":470,"y":0.769},{"p":"4TA","k":"k=4","x":500,"y":0.796},
{"p":"4TA","k":"k=5","x":0,"y":0.047},{"p":"4TA","k":"k=5","x":5,"y":0.051},{"p":"4TA","k":"k=5","x":10,"y":0.069},{"p":"4TA","k":"k=5","x":30,"y":0.08},{"p":"4TA","k":"k=5","x":60,"y":0.098},{"p":"4TA","k":"k=5","x":90,"y":0.115},{"p":"4TA","k":"k=5","x":110,"y":0.127},{"p":"4TA","k":"k=5","x":120,"y":0.142},{"p":"4TA","k":"k=5","x":125,"y":0.178},{"p":"4TA","k":"k=5","x":130,"y":0.207},{"p":"4TA","k":"k=5","x":140,"y":0.222},{"p":"4TA","k":"k=5","x":170,"y":0.244},{"p":"4TA","k":"k=5","x":200,"y":0.266},{"p":"4TA","k":"k=5","x":230,"y":0.295},{"p":"4TA","k":"k=5","x":260,"y":0.331},{"p":"4TA","k":"k=5","x":290,"y":0.378},{"p":"4TA","k":"k=5","x":320,"y":0.431},{"p":"4TA","k":"k=5","x":350,"y":0.485},{"p":"4TA","k":"k=5","x":380,"y":0.543},{"p":"4TA","k":"k=5","x":410,"y":0.591},{"p":"4TA","k":"k=5","x":440,"y":0.638},{"p":"4TA","k":"k=5","x":470,"y":0.682},{"p":"4TA","k":"k=5","x":500,"y":0.718},
{"p":"4TA","k":"k=10","x":0,"y":0.022},{"p":"4TA","k":"k=10","x":15,"y":0.022},{"p":"4TA","k":"k=10","x":30,"y":0.036},{"p":"4TA","k":"k=10","x":50,"y":0.047},{"p":"4TA","k":"k=10","x":70,"y":0.058},{"p":"4TA","k":"k=10","x":90,"y":0.073},{"p":"4TA","k":"k=10","x":110,"y":0.096},{"p":"4TA","k":"k=10","x":130,"y":0.13},{"p":"4TA","k":"k=10","x":150,"y":0.175},{"p":"4TA","k":"k=10","x":170,"y":0.225},{"p":"4TA","k":"k=10","x":190,"y":0.28},{"p":"4TA","k":"k=10","x":210,"y":0.337},{"p":"4TA","k":"k=10","x":230,"y":0.395},{"p":"4TA","k":"k=10","x":250,"y":0.45},{"p":"4TA","k":"k=10","x":270,"y":0.5},{"p":"4TA","k":"k=10","x":290,"y":0.545},{"p":"4TA","k":"k=10","x":310,"y":0.585},{"p":"4TA","k":"k=10","x":330,"y":0.625},{"p":"4TA","k":"k=10","x":350,"y":0.658},{"p":"4TA","k":"k=10","x":370,"y":0.685},{"p":"4TA","k":"k=10","x":400,"y":0.713},{"p":"4TA","k":"k=10","x":430,"y":0.738},{"p":"4TA","k":"k=10","x":460,"y":0.762},{"p":"4TA","k":"k=10","x":500,"y":0.796},

{"p":"4VA","k":"k=2","x":0,"y":0.159},{"p":"4VA","k":"k=2","x":3,"y":0.426},{"p":"4VA","k":"k=2","x":5,"y":0.493},{"p":"4VA","k":"k=2","x":10,"y":0.505},{"p":"4VA","k":"k=2","x":20,"y":0.497},{"p":"4VA","k":"k=2","x":30,"y":0.503},{"p":"4VA","k":"k=2","x":40,"y":0.499},{"p":"4VA","k":"k=2","x":50,"y":0.51},{"p":"4VA","k":"k=2","x":60,"y":0.503},{"p":"4VA","k":"k=2","x":70,"y":0.507},{"p":"4VA","k":"k=2","x":80,"y":0.505},{"p":"4VA","k":"k=2","x":90,"y":0.508},{"p":"4VA","k":"k=2","x":100,"y":0.503},{"p":"4VA","k":"k=2","x":110,"y":0.506},{"p":"4VA","k":"k=2","x":120,"y":0.502},{"p":"4VA","k":"k=2","x":130,"y":0.498},{"p":"4VA","k":"k=2","x":140,"y":0.506},{"p":"4VA","k":"k=2","x":150,"y":0.505},{"p":"4VA","k":"k=2","x":160,"y":0.497},{"p":"4VA","k":"k=2","x":170,"y":0.49},{"p":"4VA","k":"k=2","x":180,"y":0.495},{"p":"4VA","k":"k=2","x":190,"y":0.492},{"p":"4VA","k":"k=2","x":200,"y":0.497},{"p":"4VA","k":"k=2","x":210,"y":0.494},{"p":"4VA","k":"k=2","x":220,"y":0.5},{"p":"4VA","k":"k=2","x":230,"y":0.497},{"p":"4VA","k":"k=2","x":240,"y":0.505},{"p":"4VA","k":"k=2","x":250,"y":0.51},{"p":"4VA","k":"k=2","x":260,"y":0.495},{"p":"4VA","k":"k=2","x":270,"y":0.485},{"p":"4VA","k":"k=2","x":280,"y":0.5},{"p":"4VA","k":"k=2","x":290,"y":0.497},{"p":"4VA","k":"k=2","x":300,"y":0.49},{"p":"4VA","k":"k=2","x":310,"y":0.483},{"p":"4VA","k":"k=2","x":320,"y":0.49},{"p":"4VA","k":"k=2","x":330,"y":0.495},{"p":"4VA","k":"k=2","x":340,"y":0.487},{"p":"4VA","k":"k=2","x":350,"y":0.49},{"p":"4VA","k":"k=2","x":360,"y":0.487},{"p":"4VA","k":"k=2","x":370,"y":0.49},{"p":"4VA","k":"k=2","x":380,"y":0.495},{"p":"4VA","k":"k=2","x":390,"y":0.49},{"p":"4VA","k":"k=2","x":400,"y":0.496},{"p":"4VA","k":"k=2","x":410,"y":0.49},{"p":"4VA","k":"k=2","x":420,"y":0.485},{"p":"4VA","k":"k=2","x":430,"y":0.49},{"p":"4VA","k":"k=2","x":440,"y":0.487},{"p":"4VA","k":"k=2","x":450,"y":0.493},{"p":"4VA","k":"k=2","x":460,"y":0.485},{"p":"4VA","k":"k=2","x":470,"y":0.49},{"p":"4VA","k":"k=2","x":480,"y":0.478},{"p":"4VA","k":"k=2","x":490,"y":0.493},{"p":"4VA","k":"k=2","x":500,"y":0.487},
{"p":"4VA","k":"k=3","x":0,"y":0.07},{"p":"4VA","k":"k=3","x":5,"y":0.106},{"p":"4VA","k":"k=3","x":10,"y":0.204},{"p":"4VA","k":"k=3","x":13,"y":0.31},{"p":"4VA","k":"k=3","x":18,"y":0.337},{"p":"4VA","k":"k=3","x":25,"y":0.33},{"p":"4VA","k":"k=3","x":30,"y":0.333},{"p":"4VA","k":"k=3","x":40,"y":0.328},{"p":"4VA","k":"k=3","x":50,"y":0.335},{"p":"4VA","k":"k=3","x":60,"y":0.327},{"p":"4VA","k":"k=3","x":70,"y":0.333},{"p":"4VA","k":"k=3","x":80,"y":0.338},{"p":"4VA","k":"k=3","x":90,"y":0.327},{"p":"4VA","k":"k=3","x":100,"y":0.333},{"p":"4VA","k":"k=3","x":110,"y":0.33},{"p":"4VA","k":"k=3","x":120,"y":0.335},{"p":"4VA","k":"k=3","x":130,"y":0.325},{"p":"4VA","k":"k=3","x":140,"y":0.33},{"p":"4VA","k":"k=3","x":150,"y":0.335},{"p":"4VA","k":"k=3","x":160,"y":0.338},{"p":"4VA","k":"k=3","x":170,"y":0.33},{"p":"4VA","k":"k=3","x":180,"y":0.34},{"p":"4VA","k":"k=3","x":190,"y":0.325},{"p":"4VA","k":"k=3","x":200,"y":0.333},{"p":"4VA","k":"k=3","x":210,"y":0.33},{"p":"4VA","k":"k=3","x":220,"y":0.328},{"p":"4VA","k":"k=3","x":230,"y":0.32},{"p":"4VA","k":"k=3","x":240,"y":0.33},{"p":"4VA","k":"k=3","x":250,"y":0.333},{"p":"4VA","k":"k=3","x":260,"y":0.337},{"p":"4VA","k":"k=3","x":270,"y":0.328},{"p":"4VA","k":"k=3","x":280,"y":0.335},{"p":"4VA","k":"k=3","x":290,"y":0.33},{"p":"4VA","k":"k=3","x":300,"y":0.325},{"p":"4VA","k":"k=3","x":310,"y":0.32},{"p":"4VA","k":"k=3","x":320,"y":0.335},{"p":"4VA","k":"k=3","x":330,"y":0.333},{"p":"4VA","k":"k=3","x":340,"y":0.338},{"p":"4VA","k":"k=3","x":350,"y":0.33},{"p":"4VA","k":"k=3","x":360,"y":0.328},{"p":"4VA","k":"k=3","x":370,"y":0.333},{"p":"4VA","k":"k=3","x":380,"y":0.337},{"p":"4VA","k":"k=3","x":390,"y":0.33},{"p":"4VA","k":"k=3","x":400,"y":0.335},{"p":"4VA","k":"k=3","x":410,"y":0.332},{"p":"4VA","k":"k=3","x":420,"y":0.33},{"p":"4VA","k":"k=3","x":430,"y":0.333},{"p":"4VA","k":"k=3","x":440,"y":0.33},{"p":"4VA","k":"k=3","x":450,"y":0.352},{"p":"4VA","k":"k=3","x":460,"y":0.345},{"p":"4VA","k":"k=3","x":470,"y":0.335},{"p":"4VA","k":"k=3","x":480,"y":0.348},{"p":"4VA","k":"k=3","x":490,"y":0.338},{"p":"4VA","k":"k=3","x":500,"y":0.335},
{"p":"4VA","k":"k=4","x":0,"y":0.061},{"p":"4VA","k":"k=4","x":10,"y":0.079},{"p":"4VA","k":"k=4","x":20,"y":0.097},{"p":"4VA","k":"k=4","x":25,"y":0.159},{"p":"4VA","k":"k=4","x":30,"y":0.23},{"p":"4VA","k":"k=4","x":35,"y":0.248},{"p":"4VA","k":"k=4","x":40,"y":0.25},{"p":"4VA","k":"k=4","x":50,"y":0.246},{"p":"4VA","k":"k=4","x":60,"y":0.25},{"p":"4VA","k":"k=4","x":70,"y":0.255},{"p":"4VA","k":"k=4","x":80,"y":0.245},{"p":"4VA","k":"k=4","x":90,"y":0.25},{"p":"4VA","k":"k=4","x":100,"y":0.243},{"p":"4VA","k":"k=4","x":110,"y":0.25},{"p":"4VA","k":"k=4","x":120,"y":0.257},{"p":"4VA","k":"k=4","x":130,"y":0.25},{"p":"4VA","k":"k=4","x":140,"y":0.255},{"p":"4VA","k":"k=4","x":150,"y":0.26},{"p":"4VA","k":"k=4","x":160,"y":0.25},{"p":"4VA","k":"k=4","x":170,"y":0.245},{"p":"4VA","k":"k=4","x":180,"y":0.24},{"p":"4VA","k":"k=4","x":190,"y":0.252},{"p":"4VA","k":"k=4","x":200,"y":0.247},{"p":"4VA","k":"k=4","x":210,"y":0.255},{"p":"4VA","k":"k=4","x":220,"y":0.25},{"p":"4VA","k":"k=4","x":230,"y":0.25},{"p":"4VA","k":"k=4","x":240,"y":0.253},{"p":"4VA","k":"k=4","x":250,"y":0.248},{"p":"4VA","k":"k=4","x":260,"y":0.242},{"p":"4VA","k":"k=4","x":270,"y":0.25},{"p":"4VA","k":"k=4","x":280,"y":0.245},{"p":"4VA","k":"k=4","x":290,"y":0.24},{"p":"4VA","k":"k=4","x":300,"y":0.248},{"p":"4VA","k":"k=4","x":310,"y":0.237},{"p":"4VA","k":"k=4","x":320,"y":0.245},{"p":"4VA","k":"k=4","x":330,"y":0.25},{"p":"4VA","k":"k=4","x":340,"y":0.247},{"p":"4VA","k":"k=4","x":350,"y":0.25},{"p":"4VA","k":"k=4","x":360,"y":0.255},{"p":"4VA","k":"k=4","x":370,"y":0.245},{"p":"4VA","k":"k=4","x":380,"y":0.25},{"p":"4VA","k":"k=4","x":390,"y":0.24},{"p":"4VA","k":"k=4","x":400,"y":0.252},{"p":"4VA","k":"k=4","x":410,"y":0.255},{"p":"4VA","k":"k=4","x":420,"y":0.24},{"p":"4VA","k":"k=4","x":430,"y":0.245},{"p":"4VA","k":"k=4","x":440,"y":0.25},{"p":"4VA","k":"k=4","x":450,"y":0.258},{"p":"4VA","k":"k=4","x":460,"y":0.25},{"p":"4VA","k":"k=4","x":470,"y":0.248},{"p":"4VA","k":"k=4","x":480,"y":0.255},{"p":"4VA","k":"k=4","x":490,"y":0.25},{"p":"4VA","k":"k=4","x":500,"y":0.257},
{"p":"4VA","k":"k=5","x":0,"y":0.048},{"p":"4VA","k":"k=5","x":5,"y":0.061},{"p":"4VA","k":"k=5","x":10,"y":0.072},{"p":"4VA","k":"k=5","x":20,"y":0.075},{"p":"4VA","k":"k=5","x":30,"y":0.07},{"p":"4VA","k":"k=5","x":40,"y":0.073},{"p":"4VA","k":"k=5","x":50,"y":0.08},{"p":"4VA","k":"k=5","x":60,"y":0.075},{"p":"4VA","k":"k=5","x":70,"y":0.08},{"p":"4VA","k":"k=5","x":80,"y":0.085},{"p":"4VA","k":"k=5","x":90,"y":0.087},{"p":"4VA","k":"k=5","x":100,"y":0.085},{"p":"4VA","k":"k=5","x":110,"y":0.09},{"p":"4VA","k":"k=5","x":115,"y":0.092},{"p":"4VA","k":"k=5","x":118,"y":0.1},{"p":"4VA","k":"k=5","x":122,"y":0.159},{"p":"4VA","k":"k=5","x":125,"y":0.195},{"p":"4VA","k":"k=5","x":130,"y":0.2},{"p":"4VA","k":"k=5","x":140,"y":0.203},{"p":"4VA","k":"k=5","x":150,"y":0.208},{"p":"4VA","k":"k=5","x":160,"y":0.205},{"p":"4VA","k":"k=5","x":170,"y":0.207},{"p":"4VA","k":"k=5","x":180,"y":0.203},{"p":"4VA","k":"k=5","x":190,"y":0.205},{"p":"4VA","k":"k=5","x":200,"y":0.207},{"p":"4VA","k":"k=5","x":210,"y":0.203},{"p":"4VA","k":"k=5","x":220,"y":0.2},{"p":"4VA","k":"k=5","x":230,"y":0.205},{"p":"4VA","k":"k=5","x":240,"y":0.2},{"p":"4VA","k":"k=5","x":250,"y":0.205},{"p":"4VA","k":"k=5","x":260,"y":0.2},{"p":"4VA","k":"k=5","x":270,"y":0.205},{"p":"4VA","k":"k=5","x":280,"y":0.203},{"p":"4VA","k":"k=5","x":290,"y":0.207},{"p":"4VA","k":"k=5","x":300,"y":0.2},{"p":"4VA","k":"k=5","x":310,"y":0.203},{"p":"4VA","k":"k=5","x":320,"y":0.207},{"p":"4VA","k":"k=5","x":330,"y":0.213},{"p":"4VA","k":"k=5","x":340,"y":0.205},{"p":"4VA","k":"k=5","x":350,"y":0.21},{"p":"4VA","k":"k=5","x":360,"y":0.205},{"p":"4VA","k":"k=5","x":370,"y":0.203},{"p":"4VA","k":"k=5","x":380,"y":0.21},{"p":"4VA","k":"k=5","x":390,"y":0.205},{"p":"4VA","k":"k=5","x":400,"y":0.203},{"p":"4VA","k":"k=5","x":410,"y":0.2},{"p":"4VA","k":"k=5","x":420,"y":0.198},{"p":"4VA","k":"k=5","x":430,"y":0.203},{"p":"4VA","k":"k=5","x":440,"y":0.195},{"p":"4VA","k":"k=5","x":450,"y":0.2},{"p":"4VA","k":"k=5","x":460,"y":0.207},{"p":"4VA","k":"k=5","x":470,"y":0.203},{"p":"4VA","k":"k=5","x":480,"y":0.2},{"p":"4VA","k":"k=5","x":490,"y":0.196},{"p":"4VA","k":"k=5","x":500,"y":0.192},
{"p":"4VA","k":"k=10","x":0,"y":0.025},{"p":"4VA","k":"k=10","x":10,"y":0.025},{"p":"4VA","k":"k=10","x":20,"y":0.025},{"p":"4VA","k":"k=10","x":30,"y":0.03},{"p":"4VA","k":"k=10","x":40,"y":0.03},{"p":"4VA","k":"k=10","x":50,"y":0.031},{"p":"4VA","k":"k=10","x":60,"y":0.029},{"p":"4VA","k":"k=10","x":70,"y":0.03},{"p":"4VA","k":"k=10","x":80,"y":0.031},{"p":"4VA","k":"k=10","x":90,"y":0.034},{"p":"4VA","k":"k=10","x":100,"y":0.03},{"p":"4VA","k":"k=10","x":110,"y":0.028},{"p":"4VA","k":"k=10","x":120,"y":0.03},{"p":"4VA","k":"k=10","x":130,"y":0.028},{"p":"4VA","k":"k=10","x":140,"y":0.027},{"p":"4VA","k":"k=10","x":150,"y":0.025},{"p":"4VA","k":"k=10","x":160,"y":0.028},{"p":"4VA","k":"k=10","x":170,"y":0.027},{"p":"4VA","k":"k=10","x":180,"y":0.03},{"p":"4VA","k":"k=10","x":190,"y":0.028},{"p":"4VA","k":"k=10","x":200,"y":0.03},{"p":"4VA","k":"k=10","x":220,"y":0.03},{"p":"4VA","k":"k=10","x":240,"y":0.028},{"p":"4VA","k":"k=10","x":260,"y":0.028},{"p":"4VA","k":"k=10","x":280,"y":0.027},{"p":"4VA","k":"k=10","x":300,"y":0.03},{"p":"4VA","k":"k=10","x":320,"y":0.033},{"p":"4VA","k":"k=10","x":340,"y":0.03},{"p":"4VA","k":"k=10","x":360,"y":0.028},{"p":"4VA","k":"k=10","x":380,"y":0.027},{"p":"4VA","k":"k=10","x":400,"y":0.03},{"p":"4VA","k":"k=10","x":420,"y":0.028},{"p":"4VA","k":"k=10","x":440,"y":0.03},{"p":"4VA","k":"k=10","x":460,"y":0.028},{"p":"4VA","k":"k=10","x":480,"y":0.033},{"p":"4VA","k":"k=10","x":500,"y":0.03}
],
"cap": [
{"s":"rl","x":16,"y":633,"t":"Figure 4:"},
{"s":"br","x":1202,"y":633,"t":"Training dynamics of the from-scratch transformer across planning depths"},
{"s":"il","x":16,"y":666,"t":"m"},
{"s":"rl","x":48,"y":666,"t":"∈ {3, 4}"},
{"s":"bl","x":170,"y":666,"t":"and branch factors"},
{"s":"bil","x":444,"y":666,"t":"k"},
{"s":"bl","x":467,"y":666,"t":"∈ 𝒦."},
{"s":"rr","x":1202,"y":666,"t":"The model exhibits a two-stage learning process:"},
{"s":"rl","x":16,"y":706,"t":"validation accuracy first rises to the random baseline ("},
{"s":"fn","x":721,"y":696,"t":"1"},
{"s":"fk","x":721,"y":716,"t":"k"},
{"s":"rr","x":1202,"y":706,"t":") as the model learns to predict valid"},
{"s":"rl","x":16,"y":739,"t":"neighbors, then either jumps to near-perfect accuracy (successful strategy discovery) or"}
]
},
"concat": [
{"width":203,"height":202,"title":"Train Loss","data":{"name":"d"},"transform":[{"filter":"datum.p==='3TL'"}],"mark":{"type":"line","strokeWidth":2,"opacity":0.75},
 "encoding":{"x":{"field":"x","type":"quantitative","scale":{"domain":[-7.5,157.5],"nice":false,"zero":false},"axis":{"values":[0,50,100,150],"format":"d","title":null}},
 "y":{"field":"y","type":"quantitative","scale":{"domain":[-0.1,2.26],"nice":false,"zero":false},"axis":{"values":[0,0.5,1,1.5,2],"format":".1f","title":"Depth m = 3","titleX":-72,"titleY":111,"titleBaseline":"bottom","titleAngle":270}},
 "color":{"field":"k","type":"nominal","scale":{"domain":["k=2","k=3","k=4","k=5","k=10"],"range":["#66c2a5","#fc8d62","#8da0cb","#e78ac3","#a3a3a3"]},"legend":{"orient":"none","legendX":334,"legendY":-80,"direction":"horizontal","columns":5,"title":null,"symbolType":"M-1.35,0H1.35","symbolSize":400,"symbolOffset":3.5,"symbolStrokeWidth":2,"symbolDash":[1,0],"symbolOpacity":0.75,"symbolFillColor":"transparent","labelOffset":13,"columnPadding":19,"padding":2,"fillColor":"#f8f8f8","strokeColor":"#dddddd","cornerRadius":3}}}},
{"width":203,"height":202,"title":"Val Loss","data":{"name":"d"},"transform":[{"filter":"datum.p==='3VL'"}],"mark":{"type":"line","strokeWidth":2,"opacity":0.75,"strokeDash":[8,3.5]},
 "encoding":{"x":{"field":"x","type":"quantitative","scale":{"domain":[-7.5,157.5],"nice":false,"zero":false},"axis":{"values":[0,50,100,150],"format":"d","title":null}},
 "y":{"field":"y","type":"quantitative","scale":{"domain":[-0.092,1.94],"nice":false,"zero":false},"axis":{"values":[0,0.25,0.5,0.75,1,1.25,1.5,1.75],"format":".2f","title":null}},
 "color":{"field":"k","type":"nominal","scale":{"domain":["k=2","k=3","k=4","k=5","k=10"],"range":["#66c2a5","#fc8d62","#8da0cb","#e78ac3","#a3a3a3"]}}}},
{"width":203,"height":202,"title":"Train Acc","data":{"name":"d"},"transform":[{"filter":"datum.p==='3TA'"}],"mark":{"type":"line","strokeWidth":2,"opacity":0.75},
 "encoding":{"x":{"field":"x","type":"quantitative","scale":{"domain":[-7.5,157.5],"nice":false,"zero":false},"axis":{"values":[0,50,100,150],"format":"d","title":null}},
 "y":{"field":"y","type":"quantitative","scale":{"domain":[-0.0185,1.0485],"nice":false,"zero":false},"axis":{"values":[0,0.2,0.4,0.6,0.8,1],"format":".1f","title":null}},
 "color":{"field":"k","type":"nominal","scale":{"domain":["k=2","k=3","k=4","k=5","k=10"],"range":["#66c2a5","#fc8d62","#8da0cb","#e78ac3","#a3a3a3"]}}}},
{"width":203,"height":202,"title":"Val Acc","data":{"name":"d"},"transform":[{"filter":"datum.p==='3VA'"}],"mark":{"type":"line","strokeWidth":2,"opacity":0.75,"strokeDash":[8,3.5]},
 "encoding":{"x":{"field":"x","type":"quantitative","scale":{"domain":[-7.5,157.5],"nice":false,"zero":false},"axis":{"values":[0,50,100,150],"format":"d","title":null}},
 "y":{"field":"y","type":"quantitative","scale":{"domain":[-0.0185,1.0485],"nice":false,"zero":false},"axis":{"values":[0,0.2,0.4,0.6,0.8,1],"format":".1f","title":null}},
 "color":{"field":"k","type":"nominal","scale":{"domain":["k=2","k=3","k=4","k=5","k=10"],"range":["#66c2a5","#fc8d62","#8da0cb","#e78ac3","#a3a3a3"]}}}},
{"width":203,"height":202,"data":{"name":"d"},"transform":[{"filter":"datum.p==='4TL'"}],"mark":{"type":"line","strokeWidth":2,"opacity":0.75},
 "encoding":{"x":{"field":"x","type":"quantitative","scale":{"domain":[-25,525],"nice":false,"zero":false},"axis":{"values":[0,100,200,300,400,500],"format":"d","title":null}},
 "y":{"field":"y","type":"quantitative","scale":{"domain":[0.078,2.52],"nice":false,"zero":false},"axis":{"values":[0.5,1,1.5,2,2.5],"format":".1f","title":"Depth m = 4","titleX":-72,"titleY":98,"titleBaseline":"bottom","titleAngle":270}},
 "color":{"field":"k","type":"nominal","scale":{"domain":["k=2","k=3","k=4","k=5","k=10"],"range":["#66c2a5","#fc8d62","#8da0cb","#e78ac3","#a3a3a3"]}}}},
{"width":203,"height":202,"data":{"name":"d"},"transform":[{"filter":"datum.p==='4VL'"}],"mark":{"type":"line","strokeWidth":2,"opacity":0.75,"strokeDash":[8,3.5]},
 "encoding":{"x":{"field":"x","type":"quantitative","scale":{"domain":[-25,525],"nice":false,"zero":false},"axis":{"values":[0,100,200,300,400,500],"format":"d","title":null}},
 "y":{"field":"y","type":"quantitative","scale":{"domain":[0.14,4.3],"nice":false,"zero":false},"axis":{"values":[0.5,1,1.5,2,2.5,3,3.5,4],"format":".1f","title":null}},
 "color":{"field":"k","type":"nominal","scale":{"domain":["k=2","k=3","k=4","k=5","k=10"],"range":["#66c2a5","#fc8d62","#8da0cb","#e78ac3","#a3a3a3"]}}}},
{"width":203,"height":202,"data":{"name":"d"},"transform":[{"filter":"datum.p==='4TA'"}],"mark":{"type":"line","strokeWidth":2,"opacity":0.75},
 "encoding":{"x":{"field":"x","type":"quantitative","scale":{"domain":[-25,525],"nice":false,"zero":false},"axis":{"values":[0,100,200,300,400,500],"format":"d","title":null}},
 "y":{"field":"y","type":"quantitative","scale":{"domain":[-0.02,0.865],"nice":false,"zero":false},"axis":{"values":[0,0.1,0.2,0.3,0.4,0.5,0.6,0.7,0.8],"format":".1f","title":null}},
 "color":{"field":"k","type":"nominal","scale":{"domain":["k=2","k=3","k=4","k=5","k=10"],"range":["#66c2a5","#fc8d62","#8da0cb","#e78ac3","#a3a3a3"]}}}},
{"width":203,"height":202,"data":{"name":"d"},"transform":[{"filter":"datum.p==='4VA'"}],"mark":{"type":"line","strokeWidth":2,"opacity":0.75,"strokeDash":[8,3.5]},
 "encoding":{"x":{"field":"x","type":"quantitative","scale":{"domain":[-25,525],"nice":false,"zero":false},"axis":{"values":[0,100,200,300,400,500],"format":"d","title":null}},
 "y":{"field":"y","type":"quantitative","scale":{"domain":[0,0.536],"nice":false,"zero":false},"axis":{"values":[0,0.1,0.2,0.3,0.4,0.5],"format":".1f","title":null}},
 "color":{"field":"k","type":"nominal","scale":{"domain":["k=2","k=3","k=4","k=5","k=10"],"range":["#66c2a5","#fc8d62","#8da0cb","#e78ac3","#a3a3a3"]}}}},
{
"width": 203, "height": 130,
"data": {"name": "cap"},
"encoding": {
 "x": {"field": "x", "type": "quantitative", "scale": {"domain": [109, 312], "nice": false, "zero": false}, "axis": null},
 "y": {"field": "y", "type": "quantitative", "scale": {"domain": [606, 736], "nice": false, "zero": false, "reverse": true}, "axis": null},
 "text": {"field": "t"}
},
"layer": [
 {"transform": [{"filter": "datum.s==='rl'"}], "mark": {"type": "text", "font": "DejaVu Serif", "fontSize": 25, "align": "left", "baseline": "alphabetic", "color": "#000000"}},
 {"transform": [{"filter": "datum.s==='rr'"}], "mark": {"type": "text", "font": "DejaVu Serif", "fontSize": 25, "align": "right", "baseline": "alphabetic", "color": "#000000"}},
 {"transform": [{"filter": "datum.s==='il'"}], "mark": {"type": "text", "font": "DejaVu Serif", "fontSize": 25, "fontStyle": "italic", "align": "left", "baseline": "alphabetic", "color": "#000000"}},
 {"transform": [{"filter": "datum.s==='bl'"}], "mark": {"type": "text", "font": "DejaVu Serif", "fontSize": 25, "fontWeight": "bold", "align": "left", "baseline": "alphabetic", "color": "#000000"}},
 {"transform": [{"filter": "datum.s==='br'"}], "mark": {"type": "text", "font": "DejaVu Serif", "fontSize": 25, "fontWeight": "bold", "align": "right", "baseline": "alphabetic", "color": "#000000"}},
 {"transform": [{"filter": "datum.s==='bil'"}], "mark": {"type": "text", "font": "DejaVu Serif", "fontSize": 25, "fontWeight": "bold", "fontStyle": "italic", "align": "left", "baseline": "alphabetic", "color": "#000000"}},
 {"transform": [{"filter": "datum.s==='fn'"}], "mark": {"type": "text", "font": "DejaVu Serif", "fontSize": 15, "align": "center", "baseline": "alphabetic", "color": "#000000"}},
 {"transform": [{"filter": "datum.s==='fk'"}], "mark": {"type": "text", "font": "DejaVu Serif", "fontSize": 15, "fontStyle": "italic", "align": "center", "baseline": "alphabetic", "color": "#000000"}}
]
}
],
"columns": 4,
"spacing": {"row": 49, "column": 92},
"bounds": "flush"
}
